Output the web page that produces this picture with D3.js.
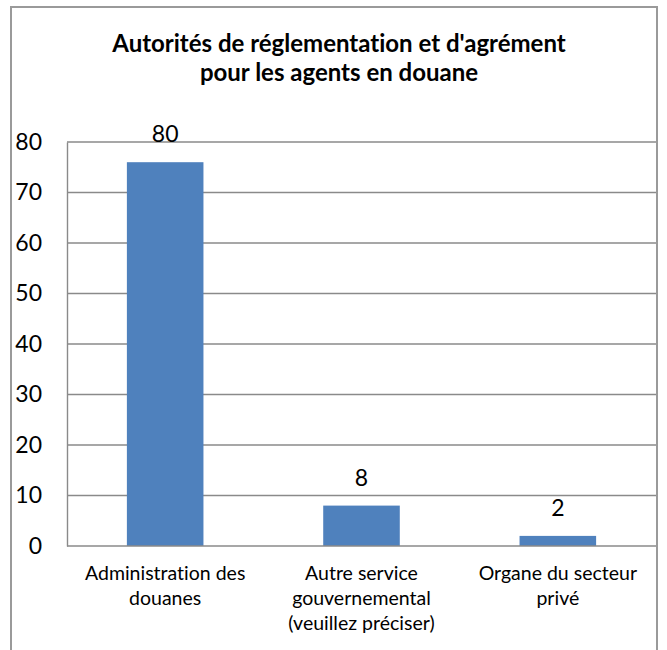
<!DOCTYPE html>
<html lang="fr">

<head>
    <meta charset="UTF-8">
    <title>Autorités de réglementation et d'agrément</title>
    <style>
        body { margin: 0; background: #fff; }
        text { font-family: Lato, "Open Sans", sans-serif; fill: #000; font-variant-ligatures: none; }
    </style>
</head>

<body>
    <script src="https://cdn.jsdelivr.net/npm/d3@7"></script>
    <script>
        const categories = [
            ["Administration des", "douanes"],
            ["Autre service", "gouvernemental", "(veuillez préciser)"],
            ["Organe du secteur", "privé"]
        ];
        const barValues = [76, 8, 2];
        const dataLabels = ["80", "8", "2"];
        const yTicks = [0, 10, 20, 30, 40, 50, 60, 70, 80];
        const titleLines = ["Autorités de réglementation et d'agrément", "pour les agents en douane"];

        const svg_w = 667, svg_h = 650;
        const plot = { left: 67, right: 656, top: 142, bottom: 546 };

        const svg = d3.select('body').append('svg')
            .attr('width', svg_w)
            .attr('height', svg_h);

        // chart border (bottom edge is off the picture)
        svg.append('rect')
            .attr('x', 11).attr('y', 7)
            .attr('width', 646).attr('height', 660)
            .attr('fill', 'none')
            .attr('stroke', '#9a9a9a')
            .attr('stroke-width', 2);

        // title, one text per line
        svg.append('g')
            .selectAll('text')
            .data(titleLines)
            .join('text')
            .attr('x', 339)
            .attr('y', (d, i) => 52 + i * 29)
            .attr('text-anchor', 'middle')
            .style('font-weight', 'bold')
            .style('font-size', '24px')
            .text(d => d);

        const x = d3.scaleBand()
            .domain(d3.range(categories.length))
            .range([plot.left, plot.right])
            .paddingInner(0.61)
            .paddingOuter(0.305);

        const y = d3.scaleLinear()
            .domain([0, 80])
            .range([plot.bottom, plot.top]);

        // horizontal grid
        svg.append('g')
            .selectAll('line')
            .data(yTicks.filter(t => t > 0))
            .join('line')
            .attr('x1', plot.left).attr('x2', plot.right)
            .attr('y1', d => y(d)).attr('y2', d => y(d))
            .attr('stroke', '#8a8a8a')
            .attr('stroke-width', 1.4);

        const yAxis = svg.append('g')
            .attr('transform', `translate(${plot.left},0)`)
            .call(d3.axisLeft(y).tickValues(yTicks).tickSize(0).tickPadding(25));
        yAxis.select('.domain').attr('stroke', '#8a8a8a').attr('stroke-width', 1.4);
        yAxis.selectAll('text')
            .style('font-family', 'Lato, sans-serif')
            .style('font-size', '23px')
            .attr('fill', '#000');

        svg.append('g')
            .selectAll('rect')
            .data(barValues)
            .join('rect')
            .attr('x', (d, i) => x(i))
            .attr('y', d => y(d))
            .attr('width', x.bandwidth())
            .attr('height', d => y(0) - y(d))
            .attr('fill', '#4f81bd');

        svg.append('line')
            .attr('x1', plot.left).attr('x2', plot.right)
            .attr('y1', y(0)).attr('y2', y(0))
            .attr('stroke', '#8a8a8a')
            .attr('stroke-width', 1.4);

        svg.append('g')
            .selectAll('text')
            .data(barValues)
            .join('text')
            .attr('x', (d, i) => x(i) + x.bandwidth() / 2)
            .attr('y', d => y(d) - 20)
            .attr('text-anchor', 'middle')
            .style('font-size', '23px')
            .text((d, i) => dataLabels[i]);

        const catText = svg.append('g')
            .selectAll('text')
            .data(categories)
            .join('text')
            .attr('text-anchor', 'middle')
            .style('font-size', '19.5px');
        catText.selectAll('tspan')
            .data((d, i) => d.map(line => ({ line, i })))
            .join('tspan')
            .attr('x', d => x(d.i) + x.bandwidth() / 2)
            .attr('y', (d, j) => 580 + j * 25)
            .text(d => d.line);
    </script>
</body>

</html>
